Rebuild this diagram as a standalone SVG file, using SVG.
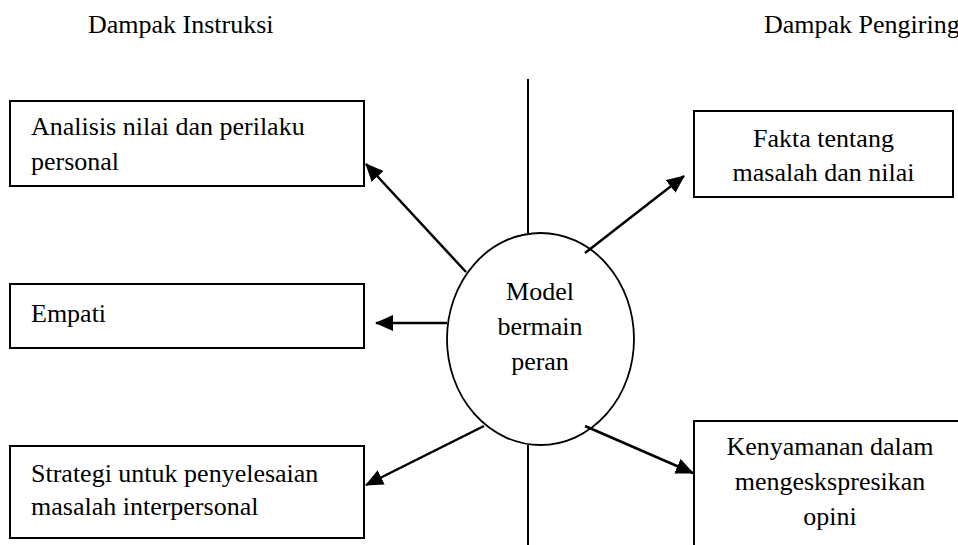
<svg xmlns="http://www.w3.org/2000/svg" width="958" height="545" viewBox="0 0 958 545">
<style>
text{font-family:"Liberation Serif","Times New Roman",serif;font-size:26px;fill:#000}
.box{fill:#fff;stroke:#000;stroke-width:2}
.c{text-anchor:middle}
.con{stroke:#000;stroke-width:2.5;fill:none}
.axis{stroke:#000;stroke-width:2;fill:none}
</style>
<defs>
<marker id="ah" markerUnits="userSpaceOnUse" markerWidth="18" markerHeight="16" refX="17" refY="8" orient="auto">
<path d="M0,0 L18,8 L0,16 z" fill="#000"/>
</marker>
</defs>
<rect width="958" height="545" fill="#fff"/>
<text x="88" y="33">Dampak Instruksi</text>
<text x="764" y="33">Dampak Pengiring</text>
<g id="axis">
<line class="axis" x1="528" y1="79" x2="528" y2="233"/>
<line class="axis" x1="528" y1="445" x2="528" y2="545"/>
</g>
<g id="connectors">
<line class="con" x1="466" y1="272" x2="366" y2="164" marker-end="url(#ah)"/>
<line class="con" x1="447" y1="323" x2="376" y2="323" marker-end="url(#ah)"/>
<line class="con" x1="484" y1="426" x2="366" y2="485" marker-end="url(#ah)"/>
<line class="con" x1="585" y1="253" x2="684" y2="176" marker-end="url(#ah)"/>
<line class="con" x1="585" y1="426" x2="693" y2="473" marker-end="url(#ah)"/>
</g>
<g id="node-model">
<ellipse cx="540.5" cy="339" rx="93.5" ry="106" fill="none" stroke="#000" stroke-width="1.8"/>
<text class="c" x="540" y="300">Model</text>
<text class="c" x="540" y="335">bermain</text>
<text class="c" x="540" y="370">peran</text>
</g>
<g id="node-analisis">
<rect class="box" x="10" y="101" width="354" height="85"/>
<text x="31" y="135">Analisis nilai dan perilaku</text>
<text x="31" y="170">personal</text>
</g>
<g id="node-empati">
<rect class="box" x="10" y="284" width="354" height="64"/>
<text x="31" y="322">Empati</text>
</g>
<g id="node-strategi">
<rect class="box" x="10" y="446" width="354" height="92"/>
<text x="31" y="482">Strategi untuk penyelesaian</text>
<text x="31" y="515">masalah interpersonal</text>
</g>
<g id="node-fakta">
<rect class="box" x="694" y="111" width="259" height="86"/>
<text class="c" x="823.5" y="147">Fakta tentang</text>
<text class="c" x="823.5" y="181">masalah dan nilai</text>
</g>
<g id="node-kenyamanan">
<rect class="box" x="694" y="421" width="280" height="140"/>
<text class="c" x="830" y="455">Kenyamanan dalam</text>
<text class="c" x="830" y="490">mengeskspresikan</text>
<text class="c" x="830" y="525">opini</text>
</g>
</svg>
